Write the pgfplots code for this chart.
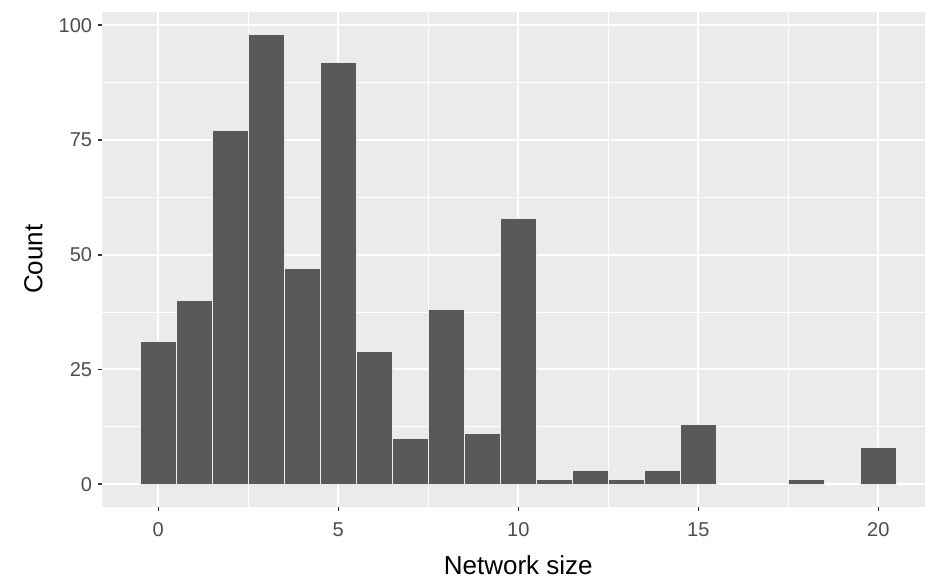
\documentclass[border=0pt]{standalone}
\usepackage{pgfplots}
\pgfplotsset{compat=1.18}
\usepackage{fontspec}
\setmainfont{Liberation Sans}
\definecolor{panelbg}{HTML}{EBEBEB}
\definecolor{barcol}{HTML}{595959}
\definecolor{ticklab}{HTML}{4D4D4D}
\definecolor{tickcol}{HTML}{333333}
\begin{document}
\begin{tikzpicture}
\begin{axis}[
  at={(0,0)}, anchor=south west,
  scale only axis,
  width=415.8pt, height=247.3pt,
  xmin=-1.55, xmax=21.55, ymin=-4.9, ymax=102.9,
  enlargelimits=false,
  axis background/.style={fill=panelbg},
  axis line style={draw=none},
  xtick pos=bottom, ytick pos=left,
  xtick={0,5,10,15,20},
  minor xtick={2.5,7.5,12.5,17.5},
  ytick={0,25,50,75,100},
  minor ytick={12.5,37.5,62.5,87.5},
  grid=both,
  major grid style={white, line width=1pt},
  minor grid style={white, line width=0.55pt},
  tick align=outside,
  major tick length=2.2pt,
  minor tick length=0pt,
  every tick/.style={tickcol, line width=0.8pt},
  /pgf/number format/assume math mode=true,
  tick label style={font=\fontsize{10}{12}\selectfont, text=ticklab},
  xticklabel style={inner sep=0pt, anchor=north, yshift=-5.8pt},
  yticklabel style={inner sep=0pt, anchor=east, xshift=-2.8pt},
  label style={font=\fontsize{13}{15}\selectfont, text=black},
  xlabel={Network size},
  ylabel={Count},
  xlabel style={at={(axis description cs:0.5,-0.1363)}, anchor=base},
  ylabel style={at={(axis description cs:-0.0722,0.5)}, anchor=base, rotate=0},
]
\addplot[ybar, bar width=1, bar shift=0, fill=barcol, draw=white!92!black, line width=0.5pt]
coordinates {
(0,31) (1,40) (2,77) (3,98) (4,47) (5,92) (6,29) (7,10) (8,38) (9,11) (10,58)
(11,1) (12,3) (13,1) (14,3) (15,13) (18,1) (20,8)
};
\end{axis}
\pgfresetboundingbox
\path (-51.25pt,-35.65pt) rectangle (411.25pt,253.3pt);
\end{tikzpicture}
\end{document}
